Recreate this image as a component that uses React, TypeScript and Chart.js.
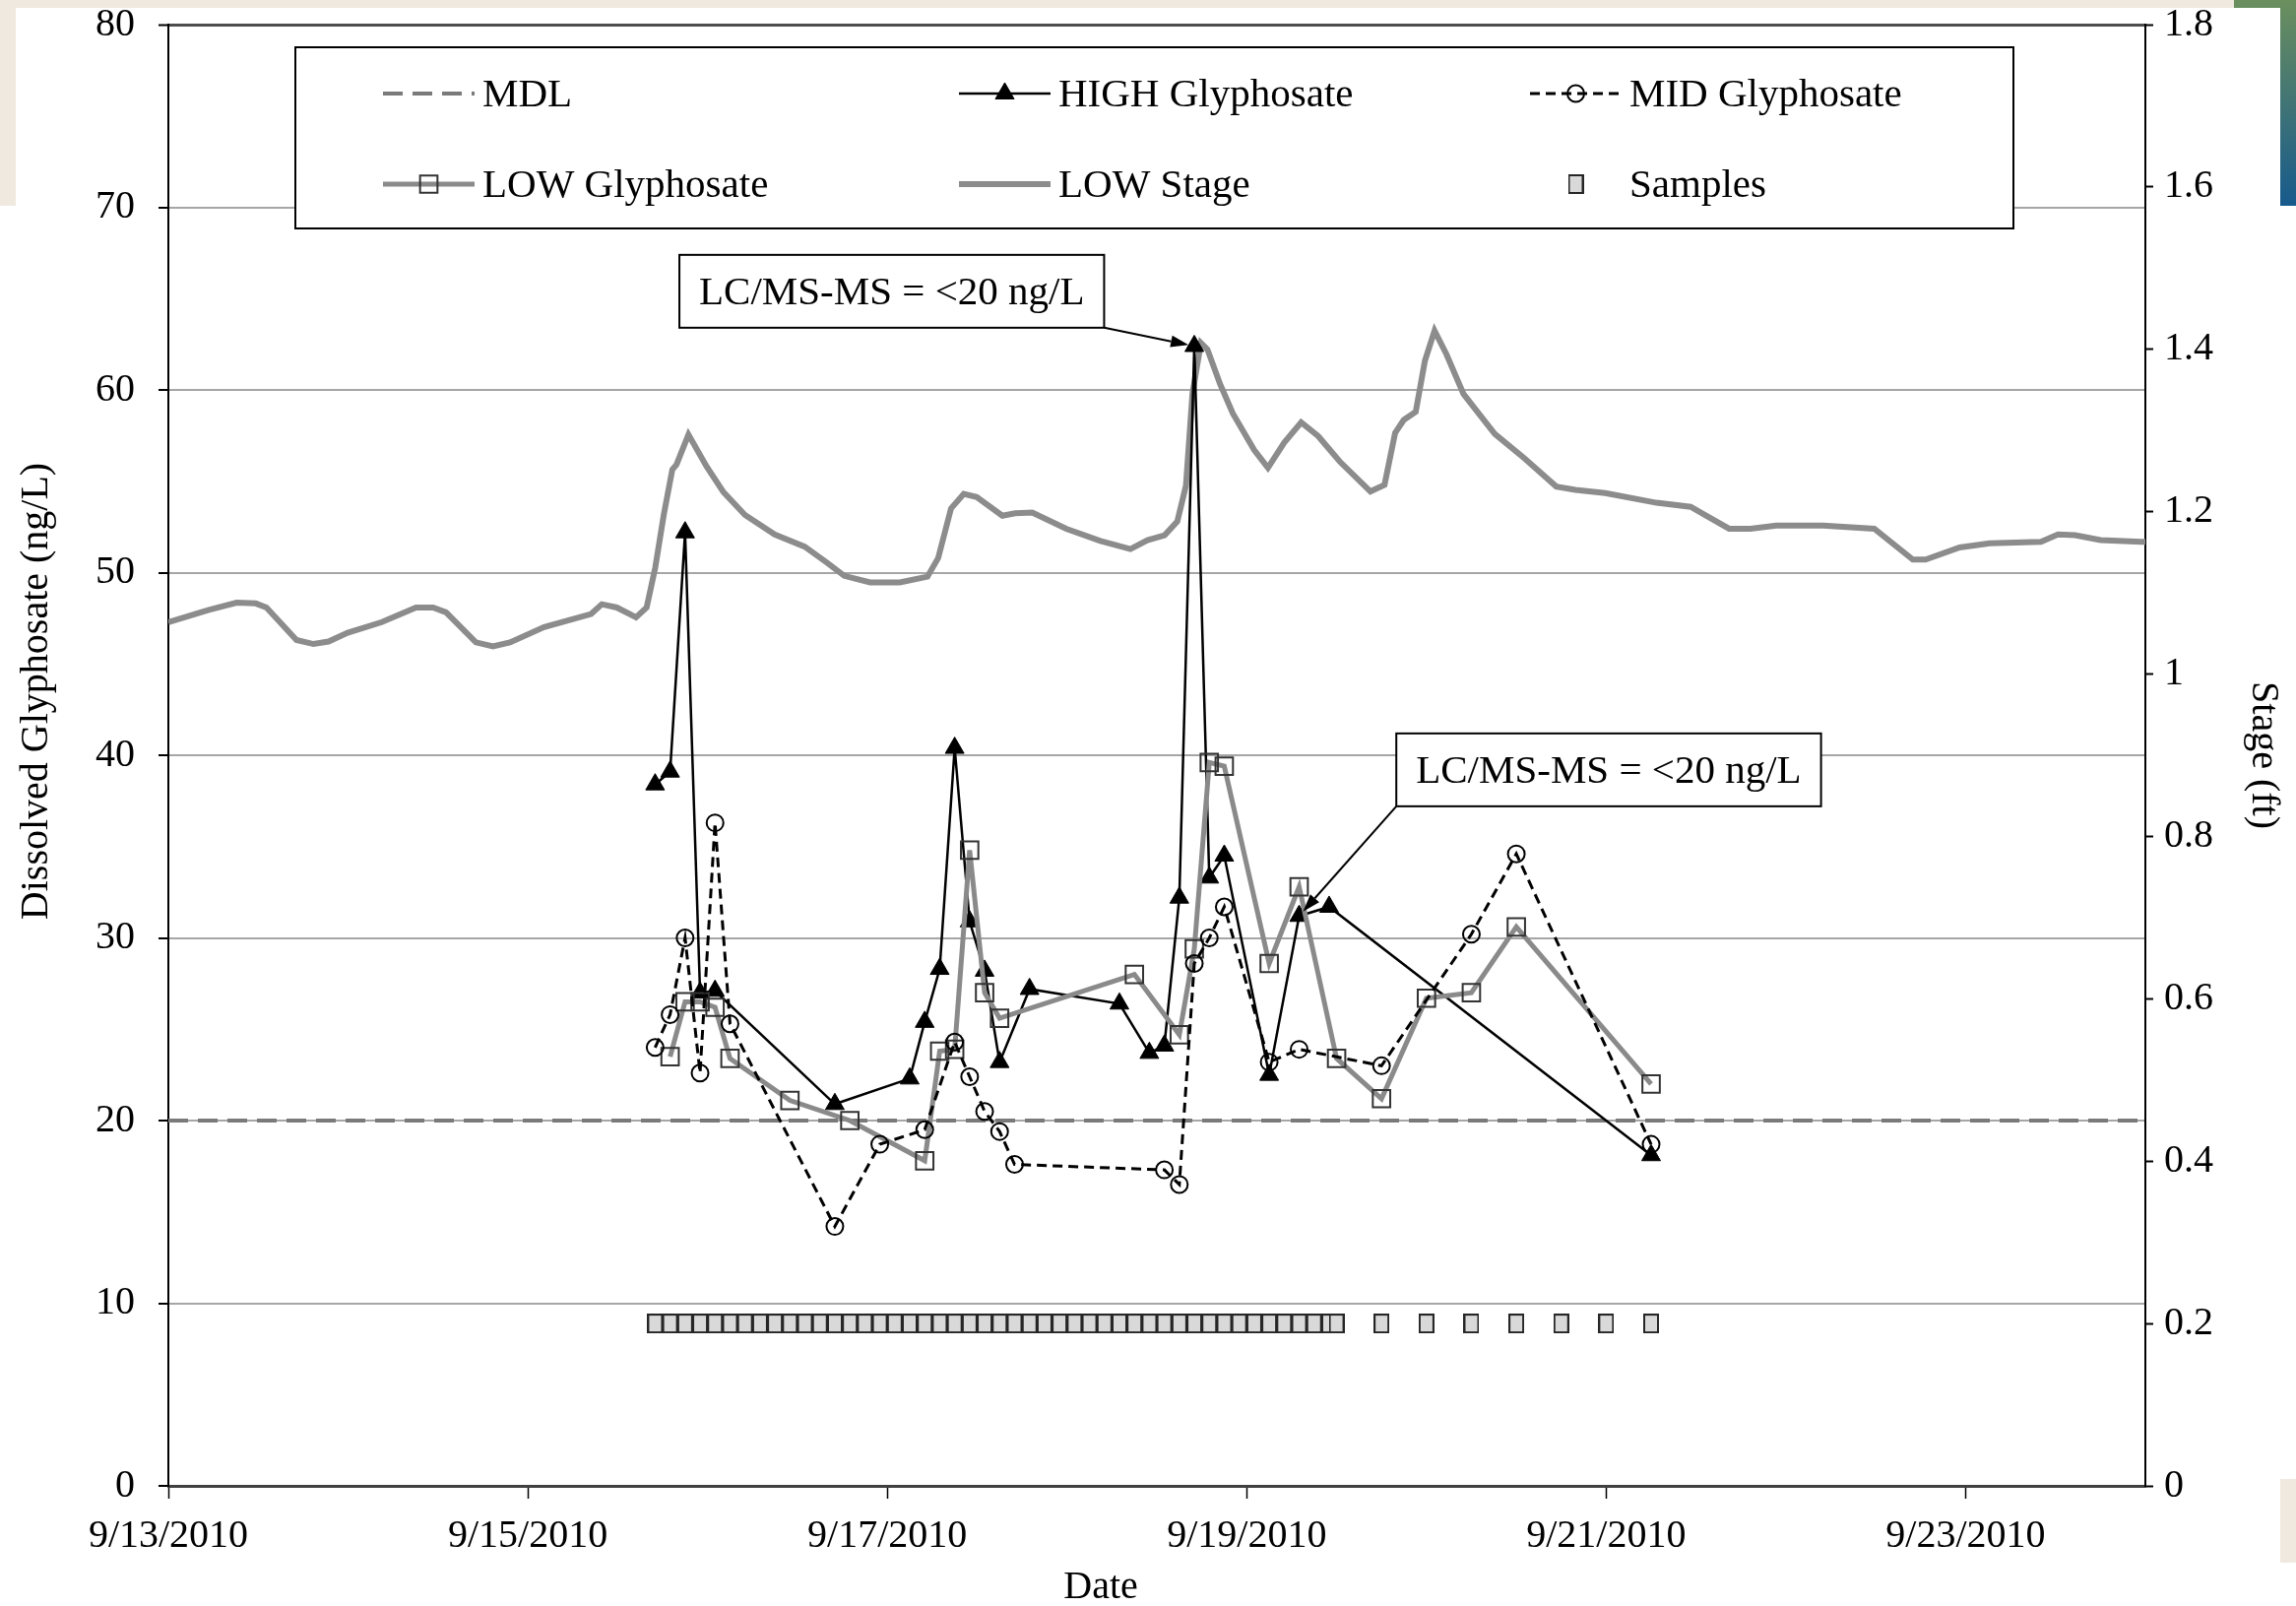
import React, { useEffect, useRef } from 'react';
import { Chart, registerables } from 'chart.js';

Chart.register(...registerables);

// ---------------- data ----------------
const YEAR = 2010;
const AXIS_START = '9/13 00:00';
const AXIS_END = '9/24 00:00';
const DATE_TICK_STEP_DAYS = 2;

const X_TITLE = 'Date';
const Y_TITLE = 'Dissolved Glyphosate (ng/L)';
const Y1_TITLE = 'Stage (ft)';

const MDL_VALUE = 20;

const HIGH_TIME = ['9/15 17:00', '9/15 19:00', '9/15 21:00', '9/15 23:00', '9/16 01:00', '9/16 17:00', '9/17 03:00', '9/17 05:00', '9/17 07:00', '9/17 09:00', '9/17 11:00', '9/17 13:00', '9/17 15:00', '9/17 19:00', '9/18 07:00', '9/18 11:00', '9/18 13:00', '9/18 15:00', '9/18 17:00', '9/18 19:00', '9/18 21:00', '9/19 03:00', '9/19 07:00', '9/19 11:00', '9/21 06:00'];
const HIGH_VALUE = [38.4, 39.1, 52.2, 27.0, 27.1, 20.9, 22.3, 25.4, 28.3, 40.4, 30.9, 28.2, 23.2, 27.2, 26.4, 23.7, 24.1, 32.2, 62.4, 33.3, 34.5, 22.5, 31.2, 31.7, 18.1];

const MID_TIME = ['9/15 17:00', '9/15 19:00', '9/15 21:00', '9/15 23:00', '9/16 01:00', '9/16 03:00', '9/16 17:00', '9/16 23:00', '9/17 05:00', '9/17 09:00', '9/17 11:00', '9/17 13:00', '9/17 15:00', '9/17 17:00', '9/18 13:00', '9/18 15:00', '9/18 17:00', '9/18 19:00', '9/18 21:00', '9/19 03:00', '9/19 07:00', '9/19 18:00', '9/20 06:00', '9/20 12:00', '9/21 06:00'];
const MID_VALUE = [24.0, 25.8, 30.0, 22.6, 36.3, 25.3, 14.2, 18.7, 19.5, 24.3, 22.4, 20.5, 19.4, 17.6, 17.3, 16.5, 28.6, 30.0, 31.7, 23.2, 23.9, 23.0, 30.2, 34.6, 18.7];

const LOW_TIME = ['9/15 19:00', '9/15 21:00', '9/15 23:00', '9/16 01:00', '9/16 03:00', '9/16 11:00', '9/16 19:00', '9/17 05:00', '9/17 07:00', '9/17 09:00', '9/17 11:00', '9/17 13:00', '9/17 15:00', '9/18 09:00', '9/18 15:00', '9/18 17:00', '9/18 19:00', '9/18 21:00', '9/19 03:00', '9/19 07:00', '9/19 12:00', '9/19 18:00', '9/20 00:00', '9/20 06:00', '9/20 12:00', '9/21 06:00'];
const LOW_VALUE = [23.5, 26.5, 26.5, 26.2, 23.4, 21.1, 20.0, 17.8, 23.8, 23.9, 34.8, 27.0, 25.6, 28.0, 24.7, 29.4, 39.6, 39.4, 28.6, 32.8, 23.4, 21.2, 26.7, 27.0, 30.6, 22.0];

const STAGE_TIME = ['9/13 00:00', '9/13 05:25', '9/13 09:07', '9/13 11:41', '9/13 13:06', '9/13 17:07', '9/13 19:23', '9/13 21:23', '9/13 23:57', '9/14 04:31', '9/14 09:04', '9/14 11:21', '9/14 13:05', '9/14 17:04', '9/14 19:21', '9/14 21:37', '9/15 02:11', '9/15 08:27', '9/15 09:53', '9/15 11:53', '9/15 14:27', '9/15 15:52', '9/15 17:01', '9/15 18:09', '9/15 19:18', '9/15 19:51', '9/15 21:27', '9/15 23:51', '9/16 02:08', '9/16 05:00', '9/16 08:58', '9/16 12:58', '9/16 15:59', '9/16 18:16', '9/16 21:42', '9/17 01:41', '9/17 05:22', '9/17 06:48', '9/17 08:31', '9/17 10:13', '9/17 11:57', '9/17 15:22', '9/17 17:04', '9/17 19:22', '9/17 23:54', '9/18 04:28', '9/18 08:28', '9/18 10:45', '9/18 13:02', '9/18 14:44', '9/18 15:53', '9/18 16:45', '9/18 17:53', '9/18 18:45', '9/18 20:27', '9/18 22:09', '9/19 01:00', '9/19 02:50', '9/19 05:00', '9/19 07:16', '9/19 09:33', '9/19 12:24', '9/19 16:31', '9/19 18:24', '9/19 19:49', '9/19 20:58', '9/19 22:34', '9/19 23:48', '9/20 01:05', '9/20 02:40', '9/20 04:57', '9/20 07:14', '9/20 09:07', '9/20 13:03', '9/20 17:20', '9/20 19:54', '9/20 23:53', '9/21 06:43', '9/21 11:17', '9/21 13:34', '9/21 16:25', '9/21 19:16', '9/21 22:42', '9/22 04:58', '9/22 11:48', '9/22 16:57', '9/22 18:39', '9/22 23:12', '9/23 03:13', '9/23 10:03', '9/23 12:20', '9/23 14:37', '9/23 18:01', '9/23 23:27', '9/24 00:00'];
const STAGE_FT = [1.064, 1.079, 1.088, 1.087, 1.082, 1.042, 1.037, 1.040, 1.051, 1.064, 1.082, 1.082, 1.076, 1.039, 1.034, 1.039, 1.058, 1.074, 1.086, 1.082, 1.070, 1.082, 1.131, 1.196, 1.252, 1.258, 1.295, 1.256, 1.224, 1.196, 1.172, 1.157, 1.137, 1.121, 1.113, 1.113, 1.120, 1.143, 1.204, 1.222, 1.218, 1.195, 1.198, 1.199, 1.179, 1.164, 1.154, 1.165, 1.171, 1.188, 1.232, 1.345, 1.408, 1.400, 1.357, 1.321, 1.276, 1.254, 1.285, 1.310, 1.293, 1.262, 1.225, 1.233, 1.297, 1.313, 1.323, 1.386, 1.423, 1.394, 1.345, 1.318, 1.296, 1.266, 1.231, 1.227, 1.223, 1.211, 1.206, 1.194, 1.179, 1.179, 1.183, 1.183, 1.179, 1.141, 1.141, 1.156, 1.161, 1.163, 1.172, 1.171, 1.165, 1.163, 1.163];

const SAMPLE_TIME = ['9/15 17:00', '9/15 19:00', '9/15 21:00', '9/15 23:00', '9/16 01:00', '9/16 03:00', '9/16 05:00', '9/16 07:00', '9/16 09:00', '9/16 11:00', '9/16 13:00', '9/16 15:00', '9/16 17:00', '9/16 19:00', '9/16 21:00', '9/16 23:00', '9/17 01:00', '9/17 03:00', '9/17 05:00', '9/17 07:00', '9/17 09:00', '9/17 11:00', '9/17 13:00', '9/17 15:00', '9/17 17:00', '9/17 19:00', '9/17 21:00', '9/17 23:00', '9/18 01:00', '9/18 03:00', '9/18 05:00', '9/18 07:00', '9/18 09:00', '9/18 11:00', '9/18 13:00', '9/18 15:00', '9/18 17:00', '9/18 19:00', '9/18 21:00', '9/18 23:00', '9/19 01:00', '9/19 03:00', '9/19 05:00', '9/19 07:00', '9/19 09:00', '9/19 11:00', '9/19 12:00', '9/19 18:00', '9/20 00:00', '9/20 06:00', '9/20 12:00', '9/20 18:00', '9/21 00:00', '9/21 06:00'];
const SAMPLE_MARK_STAGE = 0.2;

const ANNOTATION_TEXT = 'LC/MS-MS = <20 ng/L';
const ANNOTATIONS = [
  { text: ANNOTATION_TEXT, boxTime: '9/17 00:36', boxValue: 65.4, corner: 'bottom-right', targetIndex: 18 },
  { text: ANNOTATION_TEXT, boxTime: '9/21 00:20', boxValue: 39.2, corner: 'bottom-left', targetIndex: 22 },
];

// ---------------- helpers ----------------
const W = 2332;
const H = 1631;
const FONT = "'Liberation Serif', 'Times New Roman', serif";
const DAY_MS = 86400000;

function toDays(s: string): number {
  const [md, hm] = s.split(' ');
  const [mo, d] = md.split('/').map(Number);
  const [h, mi] = hm.split(':').map(Number);
  const [m0, d0] = AXIS_START.split(' ')[0].split('/').map(Number);
  return (Date.UTC(YEAR, mo - 1, d, h, mi) - Date.UTC(YEAR, m0 - 1, d0, 0, 0)) / DAY_MS;
}

function dayLabel(v: number): string {
  const [m0, d0] = AXIS_START.split(' ')[0].split('/').map(Number);
  const dt = new Date(Date.UTC(YEAR, m0 - 1, d0) + v * DAY_MS);
  return `${dt.getUTCMonth() + 1}/${dt.getUTCDate()}/${dt.getUTCFullYear()}`;
}

function pts(times: string[], values: number[]) {
  return times.map((t, i) => ({ x: toDays(t), y: values[i] }));
}

function makeSampleMarker(): HTMLCanvasElement {
  const c = document.createElement('canvas');
  c.width = 16;
  c.height = 20;
  const g = c.getContext('2d')!;
  g.fillStyle = '#d9d9d9';
  g.fillRect(1, 1, 14, 18);
  g.strokeStyle = '#262626';
  g.lineWidth = 2;
  g.strokeRect(1, 1, 14, 18);
  return c;
}

function drawMarker(ctx: CanvasRenderingContext2D, ds: any, x: number, y: number) {
  const style = ds.pointStyle;
  if (style && typeof style === 'object' && 'width' in style) {
    ctx.drawImage(style, x - style.width / 2, y - style.height / 2);
    return;
  }
  const r = ds.pointRadius || 0;
  if (r <= 0) return;
  ctx.beginPath();
  if (style === 'triangle') {
    let rad = 0;
    for (let k = 0; k < 3; k++) {
      const px = x + Math.sin(rad) * r;
      const py = y - Math.cos(rad) * r;
      if (k === 0) ctx.moveTo(px, py); else ctx.lineTo(px, py);
      rad += (2 * Math.PI) / 3;
    }
    ctx.closePath();
  } else if (style === 'rect') {
    const s = Math.SQRT1_2 * r;
    ctx.rect(x - s, y - s, 2 * s, 2 * s);
  } else {
    ctx.arc(x, y, r, 0, Math.PI * 2);
  }
  ctx.setLineDash([]);
  ctx.fillStyle = ds.pointBackgroundColor;
  ctx.fill();
  ctx.lineWidth = ds.pointBorderWidth;
  ctx.strokeStyle = ds.pointBorderColor;
  ctx.stroke();
}

// scanned-page edges seen around the figure
const backdropPlugin = {
  id: 'pageBackdrop',
  beforeDraw(chart: any) {
    const { ctx } = chart;
    ctx.save();
    ctx.fillStyle = '#efe9df';
    ctx.fillRect(0, 0, 2269, 8);
    ctx.fillRect(0, 0, 16, 209);
    ctx.fillRect(2316, 1502, 16, 85);
    const g = ctx.createLinearGradient(0, 0, 0, 209);
    g.addColorStop(0, '#6b8f5e');
    g.addColorStop(1, '#175a8c');
    ctx.fillStyle = g;
    ctx.fillRect(2269, 0, 63, 8);
    ctx.fillRect(2316, 0, 16, 209);
    ctx.restore();
  },
};

// axis titles placed as in the original figure (slightly off-centre)
const axisTitlePlugin = {
  id: 'axisTitles',
  afterDraw(chart: any) {
    const { ctx, chartArea: ca } = chart;
    ctx.save();
    ctx.font = `40px ${FONT}`;
    ctx.fillStyle = '#000';
    ctx.textAlign = 'center';
    ctx.textBaseline = 'middle';
    ctx.fillText(X_TITLE, (ca.left + ca.right) / 2 - 57, chart.height - 19);
    ctx.translate(37, (ca.top + ca.bottom) / 2 - 65);
    ctx.rotate(-Math.PI / 2);
    ctx.fillText(Y_TITLE, 0, 0);
    ctx.restore();
  },
};

const legendPlugin = {
  id: 'boxLegend',
  afterDraw(chart: any) {
    const { ctx, chartArea: ca } = chart;
    const L = ca.left + 129;
    const R = ca.right - 134;
    const T = ca.top + 23;
    const B = ca.top + 207;
    ctx.save();
    ctx.fillStyle = '#fff';
    ctx.fillRect(L, T, R - L, B - T);
    ctx.lineWidth = 2;
    ctx.strokeStyle = '#000';
    ctx.setLineDash([]);
    ctx.strokeRect(L, T, R - L, B - T);
    const colX = [89, 674, 1254];
    const rowY = [47, 139];
    const len = 93;
    chart.data.datasets.forEach((ds: any, i: number) => {
      const x0 = L + colX[i % 3];
      const y = T + rowY[Math.floor(i / 3)];
      const x1 = x0 + len;
      if (ds.showLine !== false) {
        ctx.beginPath();
        ctx.setLineDash(ds.borderDash || []);
        ctx.lineWidth = ds.borderWidth;
        ctx.strokeStyle = ds.borderColor;
        ctx.moveTo(x0, y);
        ctx.lineTo(x1, y);
        ctx.stroke();
        ctx.setLineDash([]);
      }
      drawMarker(ctx, ds, (x0 + x1) / 2, y);
      ctx.fillStyle = '#000';
      ctx.font = `41px ${FONT}`;
      ctx.textBaseline = 'middle';
      ctx.textAlign = 'left';
      ctx.fillText(ds.label, x1 + 8, y + 2);
    });
    ctx.restore();
  },
};

const annotationPlugin = {
  id: 'calloutBoxes',
  afterDatasetsDraw(chart: any) {
    const { ctx } = chart;
    const xs = chart.scales.x;
    const ys = chart.scales.y;
    ctx.save();
    ctx.font = `41px ${FONT}`;
    ANNOTATIONS.forEach((a) => {
      const cx = xs.getPixelForValue(toDays(a.boxTime));
      const cy = ys.getPixelForValue(a.boxValue);
      const tw = ctx.measureText(a.text).width;
      const w = tw + 40;
      const h = 74;
      const L = cx - w / 2;
      const T = cy - h / 2;
      const sx = a.corner === 'bottom-right' ? L + w : L;
      const sy = T + h;
      const tx = xs.getPixelForValue(toDays(HIGH_TIME[a.targetIndex]));
      const ty = ys.getPixelForValue(HIGH_VALUE[a.targetIndex]);
      const dx = tx - sx;
      const dy = ty - sy;
      const dl = Math.hypot(dx, dy);
      const ux = dx / dl;
      const uy = dy / dl;
      const tipX = tx - ux * 6;
      const tipY = ty - uy * 6;
      const headL = 18;
      const headW = 6;
      const bx = tipX - ux * headL;
      const by = tipY - uy * headL;
      ctx.setLineDash([]);
      ctx.strokeStyle = '#000';
      ctx.lineWidth = 2;
      ctx.beginPath();
      ctx.moveTo(sx, sy);
      ctx.lineTo(bx, by);
      ctx.stroke();
      ctx.fillStyle = '#000';
      ctx.beginPath();
      ctx.moveTo(tipX, tipY);
      ctx.lineTo(bx - uy * headW, by + ux * headW);
      ctx.lineTo(bx + uy * headW, by - ux * headW);
      ctx.closePath();
      ctx.fill();
      ctx.fillStyle = '#fff';
      ctx.fillRect(L, T, w, h);
      ctx.strokeStyle = '#000';
      ctx.lineWidth = 2;
      ctx.strokeRect(L, T, w, h);
      ctx.fillStyle = '#000';
      ctx.textAlign = 'center';
      ctx.textBaseline = 'middle';
      ctx.fillText(a.text, cx, cy + 2);
    });
    ctx.restore();
  },
};

export default function App() {
  const ref = useRef<HTMLCanvasElement>(null);

  useEffect(() => {
    const canvas = ref.current;
    if (!canvas) return;
    const sampleMarker = makeSampleMarker();
    const xMin = toDays(AXIS_START);
    const xMax = toDays(AXIS_END);

    const chart = new Chart(canvas, {
      type: 'line',
      data: {
        datasets: [
          {
            label: 'MDL',
            data: [{ x: xMin, y: MDL_VALUE }, { x: xMax, y: MDL_VALUE }],
            yAxisID: 'y',
            borderColor: '#7a7a7a',
            borderWidth: 4,
            borderDash: [20, 10],
            pointRadius: 0,
            order: 5,
          },
          {
            label: 'HIGH Glyphosate',
            data: pts(HIGH_TIME, HIGH_VALUE),
            yAxisID: 'y',
            borderColor: '#000',
            borderWidth: 2.5,
            pointStyle: 'triangle',
            pointRadius: 11,
            pointBackgroundColor: '#000',
            pointBorderColor: '#000',
            pointBorderWidth: 1,
            order: 4,
          },
          {
            label: 'MID Glyphosate',
            data: pts(MID_TIME, MID_VALUE),
            yAxisID: 'y',
            borderColor: '#000',
            borderWidth: 3,
            borderDash: [10, 6],
            pointStyle: 'circle',
            pointRadius: 8.5,
            pointBackgroundColor: 'rgba(0,0,0,0)',
            pointBorderColor: '#000',
            pointBorderWidth: 2,
            order: 2,
          },
          {
            label: 'LOW Glyphosate',
            data: pts(LOW_TIME, LOW_VALUE),
            yAxisID: 'y',
            borderColor: '#8a8a8a',
            borderWidth: 5,
            pointStyle: 'rect',
            pointRadius: 12.5,
            pointBackgroundColor: 'rgba(0,0,0,0)',
            pointBorderColor: '#333',
            pointBorderWidth: 2,
            order: 3,
          },
          {
            label: 'LOW Stage',
            data: pts(STAGE_TIME, STAGE_FT),
            yAxisID: 'y1',
            borderColor: '#8c8c8c',
            borderWidth: 6,
            pointRadius: 0,
            order: 6,
          },
          {
            label: 'Samples',
            data: SAMPLE_TIME.map((t) => ({ x: toDays(t), y: SAMPLE_MARK_STAGE })),
            yAxisID: 'y1',
            showLine: false,
            pointStyle: sampleMarker,
            pointRadius: 10,
            order: 1,
          },
        ] as any,
      },
      options: {
        animation: false,
        responsive: false,
        devicePixelRatio: 1,
        events: [],
        layout: { padding: { top: 25, left: 0, right: 0, bottom: 0 } },
        plugins: { legend: { display: false }, tooltip: { enabled: false } },
        scales: {
          x: {
            type: 'linear',
            position: 'bottom',
            min: xMin,
            max: xMax,
            ticks: {
              stepSize: DATE_TICK_STEP_DAYS,
              includeBounds: false,
              autoSkip: false,
              maxRotation: 0,
              color: '#000',
              padding: 14,
              font: { family: FONT, size: 40 },
              callback: (v: any) => dayLabel(Number(v)),
            },
            grid: { drawOnChartArea: false, drawTicks: true, tickLength: 13, tickColor: '#000', tickWidth: 1.5 },
            border: { display: true, color: '#404040', width: 3 },
            title: { display: false },
            afterFit: (s: any) => { s.height = 122; s.paddingLeft = 0; s.paddingRight = 0; },
          },
          y: {
            type: 'linear',
            position: 'left',
            min: 0,
            max: 80,
            ticks: { stepSize: 10, color: '#000', padding: 24, font: { family: FONT, size: 40 } },
            grid: {
              color: (c: any) => (c.tick && c.tick.value === 80 ? '#4d4d4d' : c.tick && c.tick.value === 0 ? '#404040' : '#a6a6a6'),
              lineWidth: (c: any) => (c.tick && c.tick.value === 80 ? 3 : 2),
              tickLength: 10,
              tickColor: '#000',
              tickWidth: 2,
            },
            border: { display: true, color: '#000', width: 2 },
            title: { display: false },
            afterFit: (s: any) => { s.width = 171; s.paddingTop = 0; s.paddingBottom = 0; },
          },
          y1: {
            type: 'linear',
            position: 'right',
            min: 0,
            max: 1.8,
            ticks: {
              stepSize: 0.2,
              color: '#000',
              padding: 11,
              font: { family: FONT, size: 40 },
              callback: (v: any) => String(Math.round(Number(v) * 10) / 10),
            },
            grid: { drawOnChartArea: false, tickLength: 8, tickColor: '#000', tickWidth: 2 },
            border: { display: true, color: '#000', width: 2 },
            title: { display: true, text: Y1_TITLE, color: '#000', font: { family: FONT, size: 40 }, padding: { top: 10, bottom: 0 } },
            afterFit: (s: any) => { s.width = 153; s.paddingTop = 0; s.paddingBottom = 0; },
          },
        },
      } as any,
      plugins: [backdropPlugin, annotationPlugin, legendPlugin, axisTitlePlugin],
    });
    return () => chart.destroy();
  }, []);

  return (
    <div style={{ position: 'fixed', left: 0, top: 0, width: W, height: H, background: '#fff' }}>
      <canvas ref={ref} width={W} height={H} style={{ display: 'block', width: W, height: H }} />
    </div>
  );
}
